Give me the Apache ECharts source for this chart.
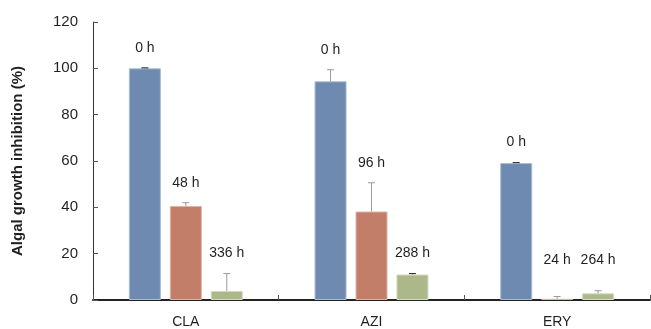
<!DOCTYPE html>
<html>
<head>
<meta charset="utf-8">
<script src="https://cdn.jsdelivr.net/npm/echarts@6/dist/echarts.min.js"></script>
<style>
  html, body { margin: 0; padding: 0; background: #fff; }
  #chart { width: 651px; height: 329px; }
</style>
</head>
<body>
<div id="chart"></div>
<script>
// Antibiotics tested
const categories = ['CLA', 'AZI', 'ERY'];

// Growth inhibition (%) at the three sampling times of each antibiotic
const firstValues  = [100, 94.4, 59.1];
const firstErrors  = [0.2, 5.0, 0.2];
const firstLabels  = ['0 h', '0 h', '0 h'];

const secondValues = [40.6, 38.2, 0.5];
const secondErrors = [1.4, 12.4, 1.0];
const secondLabels = ['48 h', '96 h', '24 h'];

const thirdValues  = [3.9, 11.0, 2.9];
const thirdErrors  = [7.5, 0.4, 1.1];
const thirdLabels  = ['336 h', '288 h', '264 h'];

const yTicks = { min: 0, max: 120, interval: 20 };

const groups = [
  { values: firstValues,  errors: firstErrors,  labels: firstLabels,  color: '#6e8ab0', border: '#a9bbd3' },
  { values: secondValues, errors: secondErrors, labels: secondLabels, color: '#c27e68', border: '#e0b3a4' },
  { values: thirdValues,  errors: thirdErrors,  labels: thirdLabels,  color: '#adb88a', border: '#d3dabd' }
];

const BAR_W = 32;
const BAR_GAP = 0.28;
const TEXT = '#231f20';
const FONT = '"Liberation Sans", Arial, sans-serif';

const chart = echarts.init(document.getElementById('chart'), null, { renderer: 'canvas' });

const series = [];
groups.forEach((g) => {
  series.push({
    type: 'bar',
    data: g.values,
    barWidth: BAR_W,
    barGap: (BAR_GAP * 100) + '%',
    itemStyle: { color: g.color, borderColor: g.border, borderWidth: 1 },
    silent: true,
    z: 2
  });
});

// Error bars and time labels, drawn over the bars
groups.forEach((g, gi) => {
  const offset = (gi - 1) * BAR_W * (1 + BAR_GAP);
  series.push({
    type: 'custom',
    data: g.values.map((v, i) => [i, v, g.errors[i]]),
    z: 5,
    silent: true,
    renderItem: function (params, api) {
      const i = api.value(0);
      const v = api.value(1);
      const e = api.value(2);
      const base = api.coord([i, v]);
      const x = base[0] + offset;
      const yTop = api.coord([i, v + e])[1];
      const yLabel = api.coord([i, Math.max(v + e, 8.5)])[1] - 20;
      const capColor = e < 0.5 ? '#222' : '#9a9a9a';
      return {
        type: 'group',
        children: [
          { type: 'line', shape: { x1: x, y1: base[1], x2: x, y2: yTop },
            style: { stroke: '#9a9a9a', lineWidth: 1 } },
          { type: 'line', shape: { x1: x - 3.5, y1: yTop, x2: x + 3.5, y2: yTop },
            style: { stroke: capColor, lineWidth: 1 } },
          { type: 'text', x: x, y: yLabel,
            style: { text: g.labels[i], fill: TEXT, font: '14px ' + FONT,
                     textAlign: 'center', textVerticalAlign: 'middle' } }
        ]
      };
    }
  });
});

chart.setOption({
  animation: false,
  backgroundColor: '#ffffff',
  grid: { left: 93, right: 1, top: 22, bottom: 28, containLabel: false },
  xAxis: {
    type: 'category',
    data: categories,
    boundaryGap: true,
    axisLine: { lineStyle: { color: '#222', width: 2 } },
    axisTick: { show: true, inside: true, length: 5, lineStyle: { color: '#555', width: 1 } },
    axisLabel: { color: TEXT, fontFamily: FONT, fontSize: 14, margin: 15 },
    splitLine: { show: false }
  },
  yAxis: {
    type: 'value',
    min: yTicks.min, max: yTicks.max, interval: yTicks.interval,
    name: 'Algal growth inhibition (%)',
    nameLocation: 'middle',
    nameGap: 68,
    nameTextStyle: { color: TEXT, fontFamily: FONT, fontSize: 15, fontWeight: 'bold' },
    axisLine: { show: true, lineStyle: { color: '#333', width: 1 } },
    axisTick: { show: true, inside: true, length: 5, lineStyle: { color: '#555', width: 1 } },
    axisLabel: { color: TEXT, fontFamily: FONT, fontSize: 15, margin: 15 },
    splitLine: { show: false }
  },
  series: series
});
</script>
</body>
</html>
